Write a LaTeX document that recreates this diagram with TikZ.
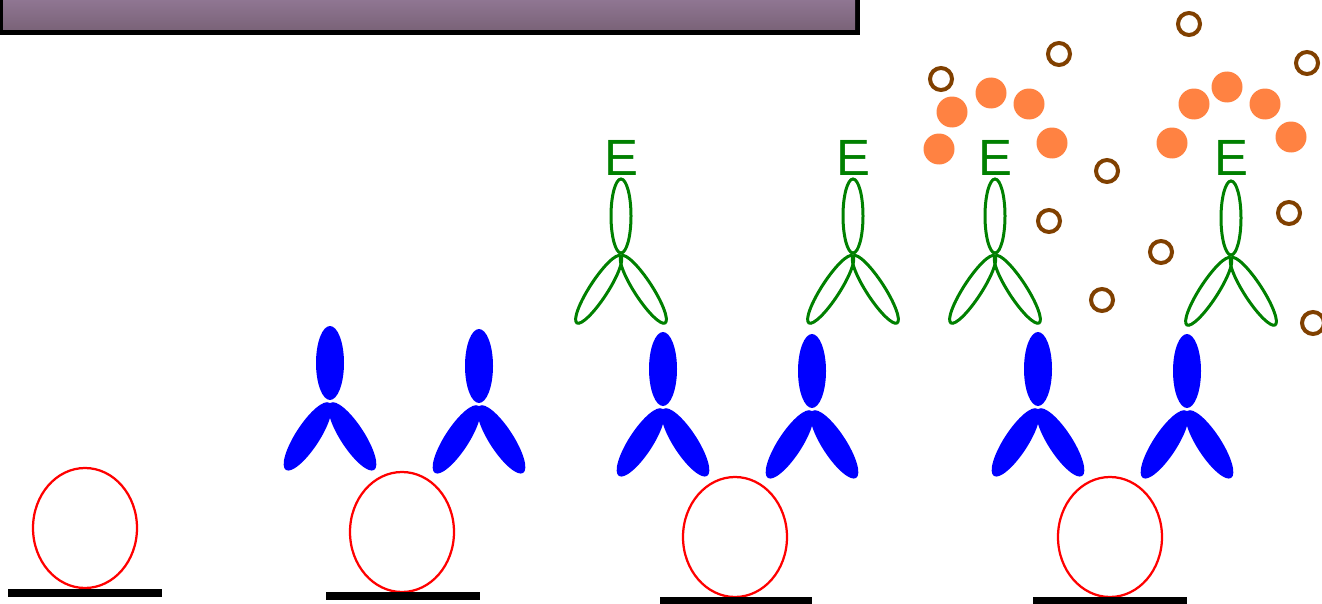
\documentclass[tikz,border=0pt]{standalone}
\usepackage{fontspec}
\setsansfont{Liberation Sans}
\definecolor{beadRed}{RGB}{255,0,0}
\definecolor{abBlue}{RGB}{0,0,255}
\definecolor{abGreen}{RGB}{0,128,0}
\definecolor{subOrange}{RGB}{255,130,66}
\definecolor{prodBrown}{RGB}{128,64,0}
\definecolor{barTop}{RGB}{148,122,152}
\definecolor{barBottom}{RGB}{122,99,120}

% #1 style, #2 hinge point, #3 stem half width, #4 arm half width
\newcommand{\antibody}[4]{%
  \begin{scope}[shift={#2}]
    \path[#1] (0,39) ellipse (#3 and 37);
    \path[#1, rotate=-123] (41,0) ellipse (40 and #4);
    \path[#1, rotate=-57] (41,0) ellipse (40 and #4);
  \end{scope}}

\begin{document}
\begin{tikzpicture}[x=0.02cm, y=0.02cm,
    bead/.style={draw=beadRed, line width=0.045cm},
    plate/.style={fill=black},
    capture/.style={fill=abBlue},
    detect/.style={draw=abGreen, line width=0.06cm},
    etext/.style={text=abGreen, inner sep=0pt, font=\sffamily\fontsize{29}{29}\selectfont},
    substrate/.style={fill=subOrange},
    product/.style={draw=prodBrown, line width=0.08cm}]
  \useasboundingbox (0,0) rectangle (1322,603);

  % title bar
  \fill[black] (0,568) rectangle (860,610);
  \shade[top color=barTop, bottom color=barBottom] (3,573) rectangle (855,610);

  % step 1
  \draw[bead] (85,75) ellipse (52 and 60);
  \fill[plate] (8,6) rectangle (162,14);

  % step 2
  \draw[bead] (402,71) ellipse (52 and 60);
  \fill[plate] (326,3) rectangle (480,11);
  \antibody{capture}{(330,201)}{14}{12}
  \antibody{capture}{(479,198)}{14}{12}

  % step 3
  \draw[bead] (735,66) ellipse (52 and 60);
  \fill[plate] (660,-2) rectangle (812,6);
  \antibody{capture}{(663,195)}{14}{12}
  \antibody{capture}{(812,193)}{14}{12}
  \antibody{detect}{(621,348)}{10}{9}
  \antibody{detect}{(853,348)}{10}{9}
  \node[etext] (e3a) at (621,445) {E};
  \node[etext] (e3b) at (853,445) {E};

  % step 4
  \draw[bead] (1110,66) ellipse (52 and 60);
  \fill[plate] (1033,-2) rectangle (1187,6);
  \antibody{capture}{(1038,195)}{14}{12}
  \antibody{capture}{(1187,193)}{14}{12}
  \antibody{detect}{(995,348)}{10}{9}
  \antibody{detect}{(1231,346)}{10}{9}
  \node[etext] (e4a) at (995,445) {E};
  \node[etext] (e4b) at (1231,445) {E};

  % substrate
  \fill[substrate] (952,491) circle (15.5);
  \fill[substrate] (991,510) circle (15.5);
  \fill[substrate] (1029,499) circle (15.5);
  \fill[substrate] (939,454) circle (15.5);
  \fill[substrate] (1052,460) circle (15.5);
  \fill[substrate] (1194,499) circle (15.5);
  \fill[substrate] (1227,516) circle (15.5);
  \fill[substrate] (1265,499) circle (15.5);
  \fill[substrate] (1172,460) circle (15.5);
  \fill[substrate] (1291,466) circle (15.5);

  % coloured product
  \draw[product] (941,524) circle (11);
  \draw[product] (1059,549) circle (11);
  \draw[product] (1189,579) circle (11);
  \draw[product] (1307,540) circle (11);
  \draw[product] (1107,432) circle (11);
  \draw[product] (1049,382) circle (11);
  \draw[product] (1289,390) circle (11);
  \draw[product] (1161,351) circle (11);
  \draw[product] (1102,303) circle (11);
  \draw[product] (1313,280) circle (11);
\end{tikzpicture}
\end{document}
